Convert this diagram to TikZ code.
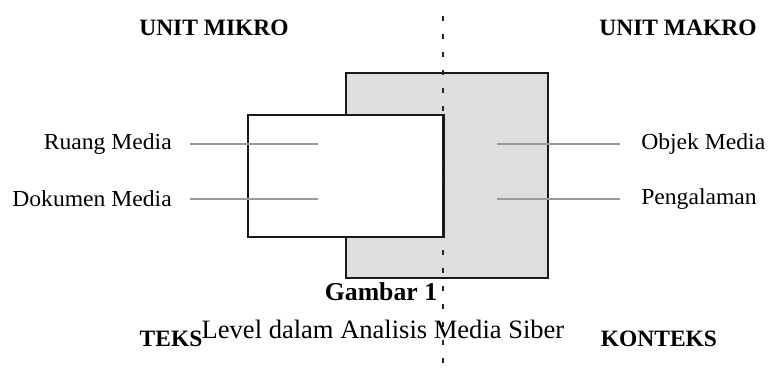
\documentclass[tikz,border=0pt]{standalone}
\usepackage{fontspec}
\setmainfont{Liberation Serif}
\usepackage{graphicx}
\definecolor{boxgray}{HTML}{DEDEDE}
\definecolor{conngray}{HTML}{9A9A9A}
\tikzset{
  boxline/.style={draw=black!90, line width=1.5pt},
  conn/.style={draw=conngray, line width=0.9pt},
  title/.style={inner sep=0pt, anchor=base, font=\fontsize{17.6}{20}\selectfont\bfseries},
  lbl/.style={inner sep=0pt, font=\fontsize{17.2}{20}\selectfont},
  divider/.style={draw=black!85, line width=2pt, dash pattern=on 4pt off 9.5pt},
}
\newcommand{\wide}[1]{\scalebox{1.03}[1]{#1}}
\begin{document}
\begin{tikzpicture}[x=0.75pt, y=-0.75pt]
\useasboundingbox (0,0) rectangle (771,374);
% boxes
\node[boxline, fill=boxgray, minimum width=202*0.75pt, minimum height=205*0.75pt, inner sep=0pt, anchor=north west] (makro) at (345,72) {};
\node[boxline, fill=white, minimum width=195*0.75pt, minimum height=122*0.75pt, inner sep=0pt, anchor=north west] (mikro) at (247,114) {};
% titles
\node[title] (um) at (214,36) {UNIT MIKRO};
\node[title] (uma) at (678,36) {UNIT MAKRO};
\node[title] (teks) at (171,346) {TEKS};
\node[title] (konteks) at (659,346) {KONTEKS};
\node[inner sep=0pt, anchor=base, font=\fontsize{19.3}{22}\selectfont\bfseries] (gambar) at (381,300) {Gambar 1};
\node[inner sep=0pt, anchor=base, font=\fontsize{19.9}{22}\selectfont] (cap) at (383,338) {Level dalam Analisis Media Siber};
% labels
\node[lbl, anchor=east] (ruang) at (172,144) {\wide{Ruang Media}};
\node[lbl, anchor=east] (dok) at (172,199) {\wide{Dokumen Media}};
\node[lbl, anchor=west] (objek) at (641,144) {\wide{Objek Media}};
\node[lbl, anchor=west] (peng) at (641,199) {\wide{Pengalaman}};
% connector ends
\coordinate (r1) at (318,144);
\coordinate (d1) at (318,199);
\coordinate (o1) at (497,144);
\coordinate (p1) at (497,199);
\draw[conn] ([xshift=18*0.75pt]ruang.east) -- (r1);
\draw[conn] ([xshift=18*0.75pt]dok.east) -- (d1);
\draw[conn] ([xshift=-21*0.75pt]objek.west) -- (o1);
\draw[conn] ([xshift=-21*0.75pt]peng.west) -- (p1);
% divider
\coordinate (dtop) at (443,16);
\coordinate (dbot) at (443,374);
\draw[divider] (dtop) -- (dbot);
\draw[line width=1.5pt, black!90] (mikro.north east) -- (mikro.south east);
\end{tikzpicture}
\end{document}
